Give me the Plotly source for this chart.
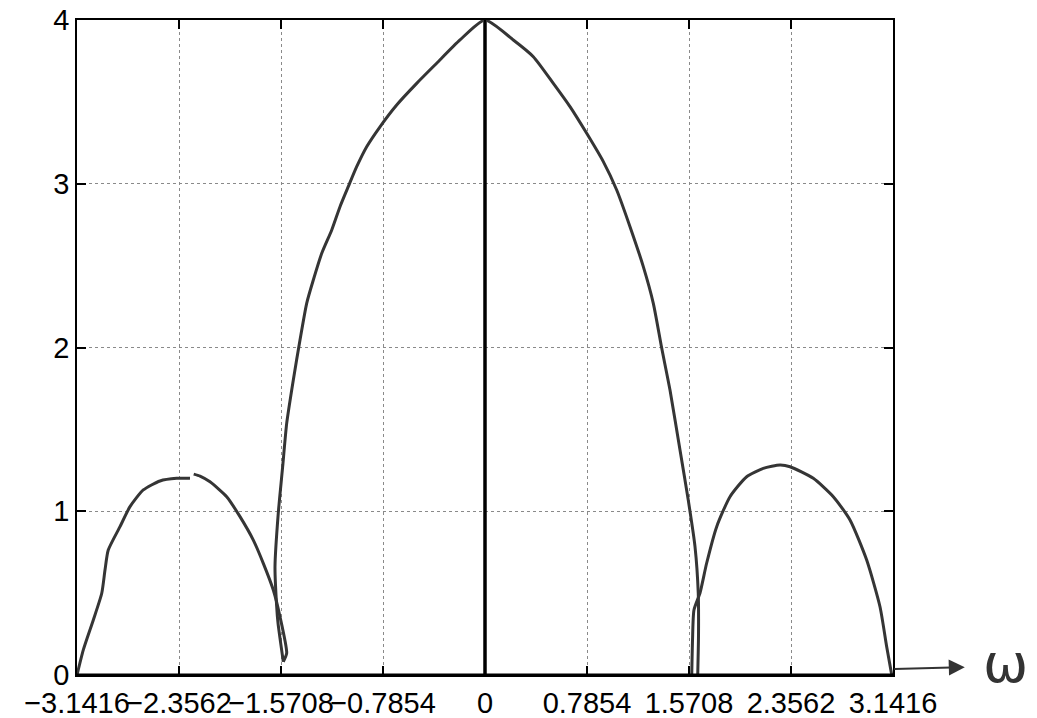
import plotly.graph_objects as go
import math

# Frequency axis ticks
tick_vals = [-math.pi, -3*math.pi/4, -math.pi/2, -math.pi/4, 0, math.pi/4, math.pi/2, 3*math.pi/4, math.pi]
tick_text = ["\u22123.1416", "\u22122.3562", "\u22121.5708", "\u22120.7854", "0", "0.7854", "1.5708", "2.3562", "3.1416"]
y_ticks = [0, 1, 2, 3, 4]

# Main lobe (hand-drawn magnitude)
main_w = [-1.553, -1.594, -1.604, -1.617, -1.592, -1.558, -1.527, -1.476, -1.4245, -1.373, -1.322,
          -1.257, -1.180, -1.1165, -1.053, -0.988, -0.911, -0.8085, -0.680, -0.526, -0.372, -0.1925, 0.0,
          0.218, 0.372, 0.526, 0.6545, 0.783, 0.911, 1.014, 1.1165, 1.219, 1.296, 1.361, 1.4245, 1.5015,
          1.565, 1.617, 1.642, 1.644, 1.638]
main_h = [0.081, 0.318, 0.417, 0.661, 0.987, 1.272, 1.537, 1.802, 2.046, 2.270, 2.412,
          2.575, 2.718, 2.860, 2.982, 3.104, 3.226, 3.348, 3.481, 3.613, 3.736, 3.878, 4.0,
          3.878, 3.776, 3.613, 3.471, 3.308, 3.135, 2.962, 2.738, 2.494, 2.270, 1.995, 1.740, 1.374,
          1.069, 0.784, 0.499, 0.244, 0.0]

# Left side lobe
left_w = [-3.1416, -3.093, -3.016, -2.951, -2.926, -2.901, -2.8105, -2.7335, -2.631, -2.5025, -2.374, -2.2715,
          None, -2.243, -2.1945, -2.1175, -1.989, -1.8865, -1.784, -1.707, -1.630, -1.5785, -1.527, -1.553]
left_h = [0.0, 0.153, 0.336, 0.499, 0.641, 0.763, 0.906, 1.028, 1.130, 1.185, 1.201, 1.201,
          None, 1.227, 1.215, 1.180, 1.089, 0.967, 0.824, 0.682, 0.519, 0.356, 0.133, 0.081]

# Right side lobe
right_w = [1.592, 1.598, 1.609, 1.6555, 1.707, 1.784, 1.8865, 2.015, 2.143, 2.2715, 2.3485, 2.528,
           2.682, 2.8105, 2.939, 3.0415, 3.093, 3.132]
right_h = [0.0, 0.214, 0.397, 0.501, 0.684, 0.906, 1.089, 1.211, 1.262, 1.282, 1.272, 1.201,
           1.089, 0.947, 0.702, 0.417, 0.173, 0.0]

# Impulse line at omega = 0
imp_w = [0, 0]
imp_h = [0, 4]

pen = dict(color="#353535", width=3, shape="spline", smoothing=0.6)
fig = go.Figure()
fig.add_trace(go.Scatter(x=imp_w, y=imp_h, mode="lines", line=dict(color="black", width=3.5), cliponaxis=False))
fig.add_trace(go.Scatter(x=main_w, y=main_h, mode="lines", line=pen, cliponaxis=False))
fig.add_trace(go.Scatter(x=left_w, y=left_h, mode="lines", line=pen, cliponaxis=False))
fig.add_trace(go.Scatter(x=right_w, y=right_h, mode="lines", line=pen, cliponaxis=False))

font = dict(family="Liberation Sans, Arial, Helvetica, sans-serif", size=29, color="black")
axis_common = dict(showline=True, linecolor="black", linewidth=1.5, mirror="ticks", ticks="inside",
                   ticklen=9, tickcolor="black", tickwidth=1.5, showgrid=True, gridcolor="#8a8a8a",
                   griddash="dot", gridwidth=1, zeroline=False, tickfont=font, automargin=False)

fig.update_layout(
    width=1037, height=718,
    margin=dict(l=77, r=144, t=20, b=43),
    plot_bgcolor="white", paper_bgcolor="white",
    showlegend=False,
    xaxis=dict(range=[-math.pi, math.pi], tickmode="array", tickvals=tick_vals, ticktext=tick_text,
               tickangle=0, ticklabelstandoff=1, **axis_common),
    yaxis=dict(range=[0, 4], tickmode="array", tickvals=y_ticks, ticktext=[str(v) for v in y_ticks],
               ticklabelstandoff=0, **axis_common),
)

# thicker bottom axis line
fig.add_shape(type="line", xref="paper", yref="paper", x0=0, x1=1, y0=0, y1=0,
              line=dict(color="black", width=3))

# omega arrow and label
fig.add_annotation(xref="paper", yref="paper", x=1.088, y=0.012, ax=-72, ay=2, showarrow=True,
                   arrowhead=2, arrowsize=1.6, arrowwidth=2, arrowcolor="#333333", text="")
fig.add_annotation(xref="paper", yref="paper", x=1.108, y=0.018, xanchor="left", yanchor="middle",
                   text="\u03c9", showarrow=False,
                   font=dict(family="DejaVu Sans, sans-serif", size=54, color="#333333"))

fig.write_html("out.html")
